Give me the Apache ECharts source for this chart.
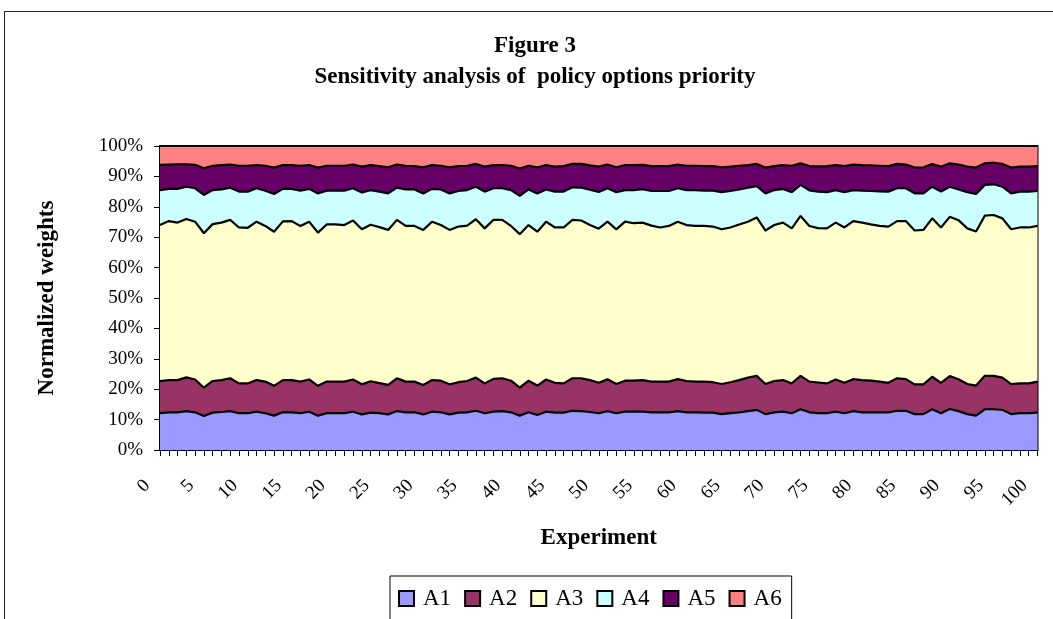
<!DOCTYPE html>
<html><head><meta charset="utf-8">
<script src="https://cdn.jsdelivr.net/npm/echarts@6/dist/echarts.min.js"></script>
<style>
html,body{margin:0;padding:0;background:#fff;overflow:hidden;}
#frame{position:absolute;left:4px;top:11px;width:1100px;height:700px;border:1.5px solid #222;}
#chart{position:absolute;left:0;top:0;width:1053px;height:619px;}
</style></head><body><div id="frame"></div><div id="chart"></div>
<script>
const experiments = ["0","1","2","3","4","5","6","7","8","9","10","11","12","13","14","15","16","17","18","19","20","21","22","23","24","25","26","27","28","29","30","31","32","33","34","35","36","37","38","39","40","41","42","43","44","45","46","47","48","49","50","51","52","53","54","55","56","57","58","59","60","61","62","63","64","65","66","67","68","69","70","71","72","73","74","75","76","77","78","79","80","81","82","83","84","85","86","87","88","89","90","91","92","93","94","95","96","97","98","99","100"];

const A1 = [12.1,12.4,12.4,12.8,12.4,11.2,12.3,12.5,12.8,12.1,12.1,12.6,12.1,11.3,12.4,12.4,12.1,12.6,11.3,12.1,12.1,12.1,12.6,11.7,12.3,12.1,11.7,12.8,12.4,12.4,11.7,12.6,12.4,11.7,12.3,12.4,12.9,12.1,12.6,12.8,12.4,11.3,12.4,11.5,12.6,12.3,12.3,12.9,12.8,12.5,12.1,12.8,12.1,12.6,12.6,12.6,12.4,12.4,12.4,12.8,12.4,12.4,12.3,12.3,11.8,12.1,12.4,12.8,13.2,11.8,12.4,12.6,12.1,13.4,12.4,12.1,12.1,12.6,12.1,12.8,12.4,12.4,12.4,12.4,12.9,12.9,11.8,11.8,13.4,12.1,13.5,12.8,11.8,11.3,13.4,13.4,13.2,11.8,12.1,12.1,12.3];
const A2 = [10.6,10.6,10.6,11.1,10.8,9.3,10.4,10.5,10.8,9.8,9.8,10.4,10.4,9.8,10.6,10.6,10.4,10.6,9.8,10.4,10.4,10.4,10.6,9.9,10.3,9.9,9.7,10.8,10.1,10.1,9.7,10.4,10.4,9.9,10.0,10.3,10.9,9.8,10.8,10.8,10.4,9.2,10.4,9.7,10.6,9.8,9.6,10.7,10.8,10.5,10.0,10.5,9.6,10.2,10.2,10.4,10.1,10.1,10.1,10.5,10.3,10.1,10.2,10.0,9.9,10.2,10.6,11.0,11.2,9.9,10.3,10.4,9.8,11.0,10.1,10.1,9.8,10.6,10.0,10.5,10.6,10.4,10.1,9.7,10.7,10.4,9.8,9.8,10.7,10.0,10.8,10.5,9.9,9.9,11.0,11.0,10.6,9.9,9.8,9.8,10.2];
const A3 = [51.3,52.3,51.8,52.1,51.9,50.8,51.6,51.8,52.1,51.3,51.2,52.1,51.2,50.7,52.2,52.3,51.2,51.9,50.4,51.7,51.7,51.5,52.3,51.0,51.5,51.3,51.0,52.1,51.2,51.2,51.0,52.1,51.2,50.8,51.2,51.1,52.1,51.0,52.3,52.1,50.9,50.5,51.2,50.6,51.9,51.1,51.3,52.1,51.9,51.0,50.7,51.8,50.9,52.3,51.8,51.8,51.3,50.7,51.2,51.8,51.3,51.2,51.2,51.2,50.9,50.9,51.2,51.3,52.1,50.5,51.3,51.8,51.0,52.6,51.2,50.8,51.0,51.6,51.1,52.0,51.8,51.4,51.2,51.4,51.7,52.0,50.6,50.8,52.1,51.1,52.4,52.3,51.2,50.7,52.7,52.9,52.4,50.9,51.3,51.3,51.2];
const A4 = [11.5,10.6,11.1,10.6,11.0,12.6,11.2,10.9,10.6,11.8,11.9,11.0,11.6,12.4,10.7,10.6,11.6,10.8,12.9,11.1,11.1,11.3,10.6,12.1,11.4,11.7,12.0,10.6,12.0,12.0,12.0,10.8,11.7,12.0,11.7,11.7,10.7,12.1,10.4,10.4,11.8,12.6,11.7,12.6,10.6,11.8,11.8,10.7,10.8,11.6,12.1,11.0,12.2,10.4,10.9,11.0,11.4,12.0,11.5,11.0,11.5,11.8,11.6,11.8,12.2,12.0,11.5,11.2,10.3,12.2,11.5,11.1,11.9,10.2,11.7,12.0,11.9,10.7,11.6,10.2,10.5,11.0,11.4,11.5,10.8,10.8,12.2,12.0,10.4,11.8,9.9,10.1,11.9,12.3,10.1,10.1,10.4,11.8,11.8,11.8,11.5];
const A5 = [8.3,8.0,8.1,7.4,7.7,8.8,8.0,8.0,7.6,8.5,8.5,7.6,8.2,8.7,7.8,7.8,8.2,7.8,8.5,8.2,8.2,8.2,7.8,8.5,8.2,8.4,8.6,7.6,7.8,7.7,8.6,7.8,7.8,8.6,8.2,8.0,7.5,8.2,7.6,7.6,8.0,9.0,7.8,8.6,8.0,8.2,8.4,7.7,7.8,8.0,8.3,7.8,8.2,8.2,8.2,8.0,8.2,8.2,8.2,7.8,8.0,8.0,8.1,8.1,8.2,8.0,7.8,7.4,7.3,8.5,7.9,7.8,8.7,7.1,8.0,8.3,8.6,8.2,8.6,8.4,8.4,8.4,8.4,8.4,8.0,7.8,8.5,8.6,7.5,8.2,7.7,8.2,8.4,8.7,7.1,7.1,7.5,8.5,8.2,8.2,8.2];
const A6 = [6.2,6.1,6.0,6.0,6.2,7.3,6.5,6.3,6.1,6.5,6.5,6.3,6.5,7.1,6.3,6.3,6.5,6.3,7.1,6.5,6.5,6.5,6.1,6.8,6.3,6.6,7.0,6.1,6.5,6.6,7.0,6.3,6.5,7.0,6.6,6.5,5.9,6.8,6.3,6.3,6.5,7.4,6.5,7.0,6.3,6.8,6.6,5.9,5.9,6.4,6.8,6.1,7.0,6.3,6.3,6.2,6.6,6.6,6.6,6.1,6.5,6.5,6.6,6.6,7.0,6.8,6.5,6.3,5.9,7.1,6.6,6.3,6.5,5.7,6.6,6.7,6.6,6.3,6.6,6.1,6.3,6.4,6.5,6.6,5.9,6.1,7.1,7.0,5.9,6.8,5.7,6.1,6.8,7.1,5.7,5.5,5.9,7.1,6.8,6.8,6.6];

const seriesNames = ["A1","A2","A3","A4","A5","A6"];
const seriesData = [A1,A2,A3,A4,A5,A6];
const seriesColors = ["#9999FF","#993366","#FFFFCC","#CCFFFF","#660066","#FF8080"];
const yTicks = [0,10,20,30,40,50,60,70,80,90,100];

const FONT = "'Liberation Serif','Times New Roman',serif";
const chart = echarts.init(document.getElementById('chart'), null, {renderer:'canvas'});
chart.setOption({
  animation:false,
  backgroundColor:'transparent',
  title:{
    text:'Figure 3\nSensitivity analysis of  policy options priority',
    left:530, top:26, textAlign:'center',
    textStyle:{fontFamily:FONT,fontWeight:'bold',fontSize:23,lineHeight:31,color:'#000'}
  },
  legend:{
    data:seriesNames,
    left:390, top:576,
    icon:'rect', itemWidth:15, itemHeight:15, itemGap:13,
    padding:[11,10,10,8],
    borderColor:'#000', borderWidth:1,
    itemStyle:{borderColor:'#000',borderWidth:2},
    textStyle:{fontFamily:FONT,fontSize:23,color:'#000',padding:[0,0,0,4]}
  },
  grid:{left:160,right:15.5,top:146,bottom:169,show:true,borderColor:'#000',borderWidth:2,backgroundColor:'transparent'},
  xAxis:{
    type:'category', data:experiments, boundaryGap:false,
    name:'Experiment', nameLocation:'middle', nameGap:77,
    nameTextStyle:{fontFamily:FONT,fontWeight:'bold',fontSize:23,color:'#000'},
    axisLine:{lineStyle:{color:'#000',width:2}},
    axisTick:{interval:0,length:6,lineStyle:{color:'#000',width:1}},
    axisLabel:{interval:4,rotate:45,margin:20,padding:[0,18,0,0],fontFamily:FONT,fontSize:19,color:'#000'},
    splitLine:{show:false}
  },
  yAxis:{
    type:'value', min:yTicks[0], max:yTicks[yTicks.length-1], interval:10,
    name:'Normalized weights', nameLocation:'middle', nameGap:101, nameRotate:90,
    nameTextStyle:{fontFamily:FONT,fontWeight:'bold',fontSize:23,color:'#000'},
    axisLine:{show:true,lineStyle:{color:'#000',width:2}},
    axisTick:{show:true,length:6,lineStyle:{color:'#000',width:1}},
    axisLabel:{formatter:'{value}%',margin:17,fontFamily:FONT,fontSize:19,color:'#000'},
    splitLine:{show:false}
  },
  series: seriesNames.map((n,k)=>({
    name:n, type:'line', stack:'total', data:seriesData[k],
    showSymbol:false, symbol:'none',
    itemStyle:{color:seriesColors[k]},
    lineStyle:{color:'#000',width:2.2},
    areaStyle:{color:seriesColors[k],opacity:1}
  }))
});
</script></body></html>
